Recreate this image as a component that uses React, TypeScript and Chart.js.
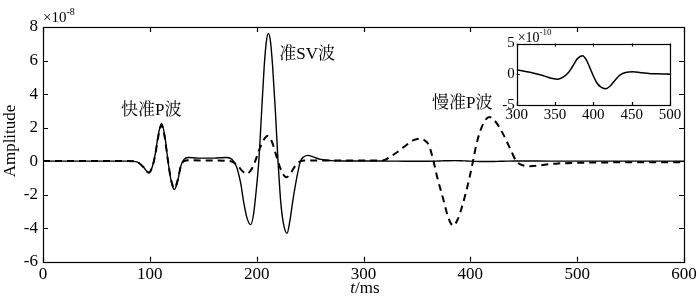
import React, { useEffect, useRef } from "react";
import { Chart, registerables } from "chart.js";

Chart.register(...registerables);

// ---------- data (amplitude in units of 1e-8, time in ms) ----------
const solidTime = [
  0, 80, 88, 94, 99, 102, 105, 108, 111, 114, 117, 120, 123, 126, 129, 132, 136, 145, 160, 172,
  177, 181, 185, 188, 191, 194.4, 197, 199.5, 202, 204.5, 207, 209, 211, 213, 215, 217.5, 220,
  222.5, 225, 228.4, 231, 234, 237.5, 241, 244, 248, 253, 260, 270, 280, 290,
];
const solidAmp = [
  0, 0, -0.05, -0.35, -0.7, -0.4, 0.4, 1.6, 2.25, 1.5, 0, -1.2, -1.7, -1.2, -0.3, 0.1, 0.22, 0.18,
  0.18, 0.22, 0.1, -0.3, -1.3, -2.5, -3.4, -3.79, -3.2, -1.8, 0, 2.8, 5.6, 7.1, 7.62, 7.1, 5.6, 3.0,
  0, -2.4, -3.7, -4.31, -3.6, -2.3, -1.0, 0, 0.25, 0.34, 0.25, 0.1, 0.03, 0.01, 0.006,
];

const dashedTime = [
  0, 80, 88, 94, 99, 102, 105, 108, 111, 114, 117, 120, 123, 126, 129, 132, 136, 160, 175, 182,
  186, 190, 194, 198, 202, 206, 210, 214, 218, 222, 226, 228, 232, 236, 240, 245, 260, 300, 318,
  327, 334, 340.5, 347, 353, 358, 361.5, 365.5, 369, 375, 379, 383.8, 388, 393, 399, 402.5, 405.5,
  409, 413, 418, 423, 430.5, 438, 443, 449, 456, 465, 480, 500, 550, 600,
];
const dashedAmp = [
  0, 0, -0.05, -0.35, -0.68, -0.4, 0.35, 1.5, 2.15, 1.4, 0, -1.15, -1.62, -1.15, -0.3, 0, 0.05,
  0.03, 0.01, -0.25, -0.55, -0.76, -0.6, -0.1, 0.6, 1.2, 1.5, 1.2, 0.4, -0.4, -0.9, -0.96, -0.7,
  -0.3, -0.05, 0.03, 0.03, 0.03, 0.04, 0.34, 0.65, 0.98, 1.25, 1.34, 1.2, 0.9, 0, -0.96, -2.35, -3.3,
  -3.85, -3.5, -2.55, -1.05, 0, 0.95, 1.74, 2.35, 2.63, 2.4, 1.64, 0.64, 0, -0.25, -0.3, -0.25,
  -0.15, -0.1, -0.07, -0.06,
];

// inset: solid curve between 300 and 500 ms, amplitude in units of 1e-10
const insetTime = [
  300, 310, 320, 332, 340, 347, 353, 360, 367, 373, 379, 386, 391, 395, 399, 404, 410, 416, 422,
  428, 435, 442, 452, 462, 475, 490, 500,
];
const insetAmp = [
  0.75, 0.5, 0.25, -0.13, -0.45, -0.7, -0.8, -0.5, 0.2, 1.3, 2.5, 3.0, 2.3, 1.2, 0, -1.3, -2.1,
  -2.35, -1.9, -1.0, -0.1, 0.3, 0.4, 0.25, 0.1, 0.05, 0.02,
];

const xTicks = [0, 100, 200, 300, 400, 500, 600];
const yTicks = [-6, -4, -2, 0, 2, 4, 6, 8];
const insetXTicks = [300, 350, 400, 450, 500];
const insetYTicks = [-5, 0, 5];

const waveLabels = ["快准P波", "准SV波", "慢准P波"];
const waveLabelTime = [101.3, 247.3, 392.4];
const waveLabelAmp = [3.0, 6.36, 3.42];

const SERIF = "'Liberation Serif', 'Times New Roman', serif";
const CJK = "'Liberation Serif', 'Noto Serif CJK SC', 'Noto Sans CJK SC', serif";

function drawFrameAndTicks(chart: any, xt: number[], yt: number[], len: number) {
  const { ctx, chartArea, scales } = chart;
  const { left, right, top, bottom } = chartArea;
  ctx.save();
  ctx.strokeStyle = "#000";
  ctx.lineWidth = 1.2;
  ctx.strokeRect(Math.round(left) + 0.5, Math.round(top) + 0.5, Math.round(right) - Math.round(left), Math.round(bottom) - Math.round(top));
  ctx.beginPath();
  for (const v of xt) {
    const px = Math.round(scales.x.getPixelForValue(v)) + 0.5;
    ctx.moveTo(px, bottom);
    ctx.lineTo(px, bottom - len);
    ctx.moveTo(px, top);
    ctx.lineTo(px, top + len);
  }
  for (const v of yt) {
    const py = Math.round(scales.y.getPixelForValue(v)) + 0.5;
    ctx.moveTo(left, py);
    ctx.lineTo(left + len, py);
    ctx.moveTo(right, py);
    ctx.lineTo(right - len, py);
  }
  ctx.stroke();
  ctx.restore();
}

function drawExponent(ctx: CanvasRenderingContext2D, x: number, y: number, exp: string, big: number, small: number) {
  ctx.save();
  ctx.fillStyle = "#000";
  ctx.textAlign = "left";
  ctx.textBaseline = "alphabetic";
  ctx.font = `${big}px ${SERIF}`;
  const base = "×10";
  ctx.fillText(base, x, y);
  const w = ctx.measureText(base).width;
  ctx.font = `${small}px ${SERIF}`;
  ctx.fillText(exp, x + w, y - big * 0.45);
  ctx.restore();
}

const mainDecor = {
  id: "mainDecor",
  afterDraw(chart: any) {
    const { ctx, chartArea, scales } = chart;
    drawFrameAndTicks(chart, xTicks, yTicks, 5);
    ctx.save();
    ctx.fillStyle = "#000";
    // wave annotations
    ctx.font = `17px ${CJK}`;
    ctx.textAlign = "center";
    ctx.textBaseline = "middle";
    waveLabels.forEach((txt, i) => {
      ctx.fillText(txt, scales.x.getPixelForValue(waveLabelTime[i]), scales.y.getPixelForValue(waveLabelAmp[i]));
    });
    // y-axis title
    ctx.save();
    ctx.translate(11, 141);
    ctx.rotate(-Math.PI / 2);
    ctx.font = `17px ${SERIF}`;
    ctx.textAlign = "center";
    ctx.textBaseline = "middle";
    ctx.fillText("Amplitude", 0, 0);
    ctx.restore();
    // x-axis title: italic t + /ms
    ctx.textAlign = "left";
    ctx.textBaseline = "alphabetic";
    ctx.font = `italic 17px ${SERIF}`;
    const wt = ctx.measureText("t").width;
    ctx.font = `17px ${SERIF}`;
    const wr = ctx.measureText("/ms").width;
    const cx = (chartArea.left + chartArea.right) / 2 + 1.5;
    const sx = cx - (wt + wr) / 2;
    ctx.font = `italic 17px ${SERIF}`;
    ctx.fillText("t", sx, 293);
    ctx.font = `17px ${SERIF}`;
    ctx.fillText("/ms", sx + wt, 293);
    ctx.restore();
    drawExponent(ctx, chartArea.left, 22, "-8", 15, 10);
  },
};

const insetDecor = {
  id: "insetDecor",
  beforeDatasetsDraw(chart: any) {
    const { ctx, chartArea } = chart;
    ctx.save();
    ctx.fillStyle = "#fff";
    ctx.fillRect(chartArea.left, chartArea.top, chartArea.right - chartArea.left, chartArea.bottom - chartArea.top);
    ctx.restore();
  },
  afterDraw(chart: any) {
    const { ctx, chartArea } = chart;
    drawFrameAndTicks(chart, insetXTicks, insetYTicks, 3);
    drawExponent(ctx, chartArea.left + 1, chartArea.top - 2, "-10", 14, 9);
  },
};

export default function App() {
  const mainRef = useRef<HTMLCanvasElement>(null);
  const insetRef = useRef<HTMLCanvasElement>(null);

  useEffect(() => {
    document.body.style.margin = "0";
    const solidPts = solidTime.map((t, i) => ({ x: t, y: solidAmp[i] }));
    insetTime.forEach((t, i) => solidPts.push({ x: t, y: insetAmp[i] * 0.01 }));
    solidPts.push({ x: 550, y: 0 }, { x: 600, y: 0 });
    const dashedPts = dashedTime.map((t, i) => ({ x: t, y: dashedAmp[i] }));

    const tickFont = { family: SERIF, size: 17 };
    const main = new Chart(mainRef.current!, {
      type: "line",
      data: {
        datasets: [
          {
            data: solidPts,
            borderColor: "#000",
            borderWidth: 1.4,
            pointRadius: 0,
            cubicInterpolationMode: "monotone",
            fill: false,
          },
          {
            data: dashedPts,
            borderColor: "#000",
            borderWidth: 2,
            borderDash: [7, 5],
            pointRadius: 0,
            cubicInterpolationMode: "monotone",
            fill: false,
          },
        ],
      },
      options: {
        animation: false,
        responsive: false,
        maintainAspectRatio: false,
        layout: { padding: { top: 27, right: 16, left: 0, bottom: 0 } },
        plugins: { legend: { display: false }, tooltip: { enabled: false } },
        scales: {
          x: {
            type: "linear",
            min: 0,
            max: 600,
            afterBuildTicks: (s: any) => {
              s.ticks = xTicks.map((v) => ({ value: v }));
            },
            ticks: { color: "#000", font: tickFont, padding: 3, maxRotation: 0, autoSkip: false },
            grid: { display: false, drawTicks: false },
            border: { display: false },
            afterFit: (s: any) => {
              s.height = 37.3;
            },
          },
          y: {
            type: "linear",
            min: -6,
            max: 8,
            afterBuildTicks: (s: any) => {
              s.ticks = yTicks.map((v) => ({ value: v }));
            },
            ticks: { color: "#000", font: tickFont, padding: 5 },
            grid: { display: false, drawTicks: false },
            border: { display: false },
            afterFit: (s: any) => {
              s.width = 43;
            },
          },
        },
      },
      plugins: [mainDecor],
    } as any);

    const insetPts = insetTime.map((t, i) => ({ x: t, y: insetAmp[i] }));
    const insetFont = { family: SERIF, size: 15 };
    const inset = new Chart(insetRef.current!, {
      type: "line",
      data: {
        datasets: [
          {
            data: insetPts,
            borderColor: "#000",
            borderWidth: 1.5,
            pointRadius: 0,
            cubicInterpolationMode: "monotone",
            fill: false,
          },
        ],
      },
      options: {
        animation: false,
        responsive: false,
        maintainAspectRatio: false,
        layout: { padding: { top: 23.5, right: 15, left: 0, bottom: 0 } },
        plugins: { legend: { display: false }, tooltip: { enabled: false } },
        scales: {
          x: {
            type: "linear",
            min: 300,
            max: 500,
            afterBuildTicks: (s: any) => {
              s.ticks = insetXTicks.map((v) => ({ value: v }));
            },
            ticks: { color: "#000", font: insetFont, padding: 1, maxRotation: 0, autoSkip: false },
            grid: { display: false, drawTicks: false },
            border: { display: false },
            afterFit: (s: any) => {
              s.height = 20;
            },
          },
          y: {
            type: "linear",
            min: -5,
            max: 5,
            afterBuildTicks: (s: any) => {
              s.ticks = insetYTicks.map((v) => ({ value: v }));
            },
            ticks: { color: "#000", font: insetFont, padding: 2 },
            grid: { display: false, drawTicks: false },
            border: { display: false },
            afterFit: (s: any) => {
              s.width = 46.7;
            },
          },
        },
      },
      plugins: [insetDecor],
    } as any);

    return () => {
      main.destroy();
      inset.destroy();
    };
  }, []);

  return (
    <div style={{ position: "relative", width: 700, height: 299, background: "#fff" }}>
      <canvas ref={mainRef} width={700} height={299} style={{ position: "absolute", left: 0, top: 0, display: "block" }} />
      <canvas ref={insetRef} width={215} height={105} style={{ position: "absolute", left: 470, top: 20, display: "block" }} />
    </div>
  );
}
